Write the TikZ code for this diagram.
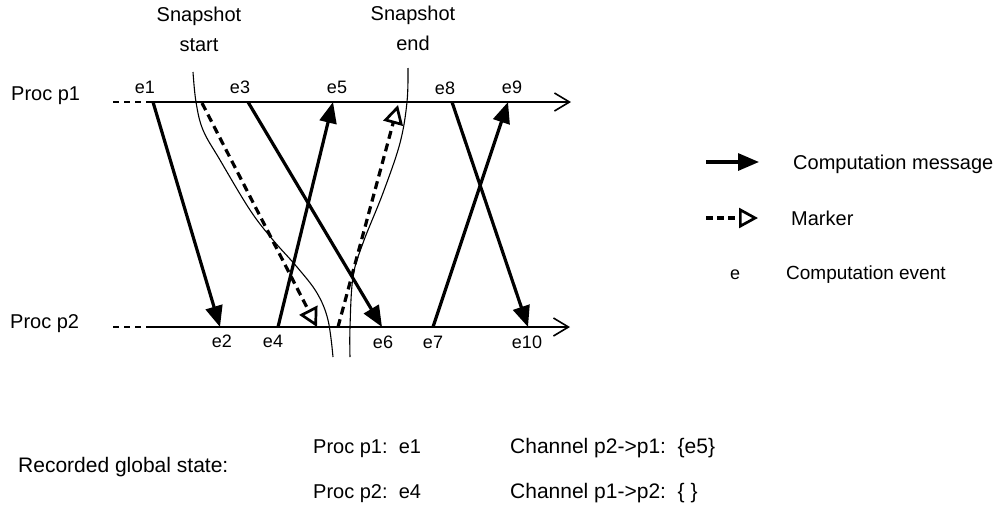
\documentclass[tikz,border=0pt]{standalone}
\usepackage{fontspec}
\setmainfont{Liberation Sans}
\usetikzlibrary{arrows.meta}
\begin{document}
\begin{tikzpicture}[x=1pt,y=-1pt,
  txt/.style={inner sep=0pt, font=\fontsize{20}{30}\selectfont},
  evlbl/.style={inner sep=0pt, font=\fontsize{18}{22}\selectfont},
  procline/.style={line width=1.6pt, -{Straight Barb[length=15pt,width=18pt,line width=1.6pt]}},
  procdash/.style={line width=1.6pt, dash pattern=on 6pt off 5pt},
  msgarrow/.style={line width=3.2pt, -{Triangle[length=21pt,width=17pt]}},
  markerarrow/.style={line width=3.2pt, dash pattern=on 8pt off 5pt, -{Triangle[open,length=19pt,width=20pt,line width=2.7pt]}},
  cutline/.style={line width=1.1pt},
]
\useasboundingbox (0,0) rectangle (1004,507);

% process lines
\node[txt, anchor=base west] (p1lbl) at (11,100) {Proc p1};
\node[txt, anchor=base west] (p2lbl) at (10,328) {Proc p2};
\coordinate (p1a) at (113,102); \coordinate (p1b) at (147,102); \coordinate (p1c) at (571,102);
\coordinate (p2a) at (113,327); \coordinate (p2b) at (147,327); \coordinate (p2c) at (570,327);
\draw[procdash] (p1a) -- (p1b);
\draw[procline] (p1b) -- (p1c);
\draw[procdash] (p2a) -- (p2b);
\draw[procline] (p2b) -- (p2c);

% snapshot labels and cuts
\node[txt, align=center, anchor=north] (sslbl) at (199,6.5) {Snapshot\\start};
\node[txt, align=center, anchor=north] (selbl) at (413,5.5) {Snapshot\\end};
\draw[cutline] plot[smooth, tension=0.6] coordinates {(193,72) (196,102) (203,130) (220,160) (250,210) (273,240) (297,267) (317,293) (328,320) (333,357)};
\draw[cutline] plot[smooth, tension=0.6] coordinates {(408,68) (407,102) (400,143) (383,193) (363,243) (353,277) (350,327) (350,357)};

% events
\coordinate (e1) at (153,102);
\coordinate (e2) at (220,327);
\coordinate (e3) at (248,102);
\coordinate (e4) at (278,327);
\coordinate (e5) at (333,102);
\coordinate (e6) at (382,327);
\coordinate (e7) at (433,327);
\coordinate (e8) at (452,102);
\coordinate (e9) at (508,102);
\coordinate (e10) at (528,327);
\coordinate (m1s) at (202,103);
\coordinate (m1e) at (317,327);
\coordinate (m2s) at (338,327);
\coordinate (m2e) at (398,105);

\node[evlbl] (l1) at (145,87.5) {e1};
\node[evlbl] (l3) at (240,87.5) {e3};
\node[evlbl] (l5) at (337,87.5) {e5};
\node[evlbl] (l8) at (445,88) {e8};
\node[evlbl] (l9) at (512,87) {e9};
\node[evlbl] (l2) at (222,341) {e2};
\node[evlbl] (l4) at (273,341) {e4};
\node[evlbl] (l6) at (383,342) {e6};
\node[evlbl] (l7) at (433,342) {e7};
\node[evlbl] (l10) at (527,342) {e10};

% messages
\draw[msgarrow] (e1) -- (e2);
\draw[msgarrow] (e3) -- (e6);
\draw[msgarrow] (e4) -- (e5);
\draw[msgarrow] (e8) -- (e10);
\draw[msgarrow] (e7) -- (e9);
% markers
\draw[markerarrow] (m1s) -- (m1e);
\draw[markerarrow] (m2s) -- (m2e);

% legend
\coordinate (lg1a) at (706,162); \coordinate (lg1b) at (759,162);
\coordinate (lg2a) at (706,218); \coordinate (lg2b) at (758,218);
\draw[msgarrow] (lg1a) -- (lg1b);
\draw[markerarrow, dash pattern=on 7pt off 4pt] (lg2a) -- (lg2b);
\node[txt, anchor=base west] (lgt1) at (793,169) {Computation message};
\node[txt, anchor=base west] (lgt2) at (791,225) {Marker};
\node[evlbl, anchor=base] (lge) at (735,279) {e};
\node[txt, font=\fontsize{19}{24}\selectfont, anchor=base west] (lgt3) at (786,279) {Computation event};

% recorded state
\node[txt, font=\fontsize{21}{26}\selectfont, anchor=base west] (rec) at (18,472) {Recorded global state:};
\node[txt, anchor=base west] (s1) at (313,453) {Proc p1:\ \ e1};
\node[txt, anchor=base west] (s2) at (313,498) {Proc p2:\ \ e4};
\node[txt, font=\fontsize{21}{26}\selectfont, anchor=base west] (c1) at (510,453) {Channel p2->p1:\ \ \{e5\}};
\node[txt, font=\fontsize{21}{26}\selectfont, anchor=base west] (c2) at (510,498) {Channel p1->p2:\ \ \{\ \}};
\end{tikzpicture}
\end{document}
